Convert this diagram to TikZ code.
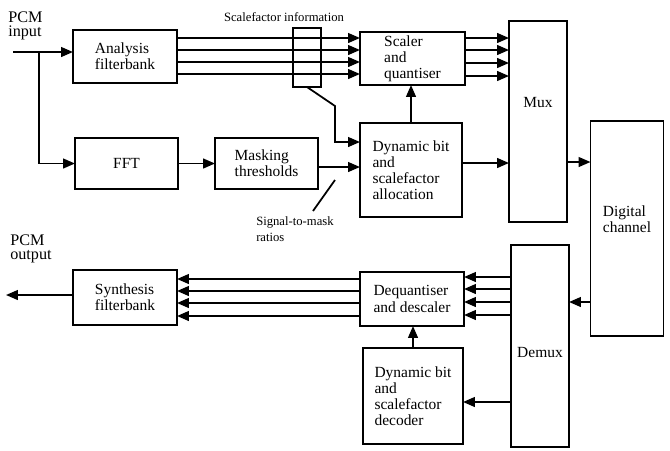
\documentclass[tikz,border=0pt]{standalone}
\usepackage{fontspec}
\setmainfont{Liberation Serif}
\usetikzlibrary{arrows.meta, positioning}

\begin{document}
\begin{tikzpicture}[
  x=0.025cm, y=-0.025cm,
  node distance=0.925cm,
  box/.style={rectangle, draw, line width=1.25pt, align=left, inner sep=2pt, outer sep=0pt, font=\fontsize{11}{11.5}\selectfont},
  io/.style={align=left, inner sep=0pt, font=\fontsize{11.5}{10}\selectfont},
  note/.style={align=left, inner sep=0pt, font=\fontsize{9}{12}\selectfont},
  arrow/.style={-{Triangle[length=8.5pt, width=7pt]}, line width=1.25pt},
  wire/.style={line width=1.25pt}
]
  \useasboundingbox (0,0) rectangle (670,450);

  % encoder
  \node[box, minimum width=2.6cm, minimum height=1.325cm] (ana) at (125,56.5) {Analysis\\filterbank};
  \node[box, minimum width=2.575cm, minimum height=1.275cm] (fft) at (126.5,163.5) {FFT};
  \node[box, minimum width=2.575cm, minimum height=1.275cm, right=of fft] (mask) {Masking\\thresholds};
  \node[box, minimum width=2.625cm, minimum height=1.325cm] (scaler) at (412.5,58.5) {Scaler\\and\\quantiser};
  \node[box, minimum width=2.55cm, minimum height=2.35cm] (dba) at (411,170) {Dynamic bit\\and\\scalefactor\\allocation};
  \node[box, minimum width=1.45cm, minimum height=5.025cm, text depth=0.95cm] (mux) at (538,121.5) {Mux};
  \node[box, minimum width=0.7cm, minimum height=1.475cm] (tap) at (307,57.5) {};

  % channel
  \node[box, minimum width=1.825cm, minimum height=5.375cm, text depth=0.45cm] (chan) at (627,228.5) {Digital\\channel};

  % decoder
  \node[box, minimum width=1.45cm, minimum height=5.05cm, text height=0.6cm] (demux) at (540,346) {Demux};
  \node[box, minimum width=2.6cm, minimum height=1.35cm] (deq) at (412,299) {Dequantiser\\and descaler};
  \node[box, minimum width=2.5cm, minimum height=2.4cm] (dec) at (413,396) {Dynamic bit\\and\\scalefactor\\decoder};
  \node[box, minimum width=2.6cm, minimum height=1.375cm] (syn) at (125,297.5) {Synthesis\\filterbank};

  % texts
  \node[io, anchor=west] (pcmin) at (8,26) {PCM\\input};
  \node[io, anchor=west] (pcmout) at (10,249) {PCM\\output};
  \node[note] (sfi) at (284,17) {Scalefactor information};
  \node[note, anchor=north west] (smr) at (256,216) {Signal-to-mask\\ratios};

  % encoder connections
  \coordinate (in) at (13,52);
  \coordinate (br) at (39,52);
  \draw[arrow] (in) -- (in -| ana.west);
  \draw[arrow] (br) |- (fft.west);
  \draw[arrow] (fft) -- (mask);
  \foreach \y in {38,50,62,74}
    \draw[arrow] (ana.east |- 0,\y) -- (scaler.west |- 0,\y);
  \coordinate (knee) at (335,106);
  \draw[arrow] (tap.south) -- (knee) |- (dba.west |- 0,142);
  \draw[arrow] (mask.east |- 0,167) -- (dba.west |- 0,167);
  \coordinate (smrtip) at (335,180);
  \coordinate (smrfoot) at (313,211);
  \draw[wire] (smrtip) -- (smrfoot);
  \draw[arrow] (dba.north) -- (dba.north |- scaler.south);
  \foreach \y in {38,50,63,76}
    \draw[arrow] (scaler.east |- 0,\y) -- (mux.west |- 0,\y);
  \draw[arrow] (dba.east |- 0,163) -- (mux.west |- 0,163);
  \draw[arrow] (mux.east |- 0,162) -- (chan.west |- 0,162);

  % decoder connections
  \draw[arrow] (chan.west |- 0,302) -- (demux.east |- 0,302);
  \foreach \y in {277,289,302,315}
    \draw[arrow] (demux.west |- 0,\y) -- (deq.east |- 0,\y);
  \foreach \y in {279,291,303,316}
    \draw[arrow] (deq.west |- 0,\y) -- (syn.east |- 0,\y);
  \draw[arrow] (dec.north) -- (dec.north |- deq.south);
  \draw[arrow] (demux.west |- 0,402) -- (dec.east |- 0,402);
  \coordinate (out) at (6,295);
  \draw[arrow] (syn.west |- out) -- (out);
\end{tikzpicture}
\end{document}
